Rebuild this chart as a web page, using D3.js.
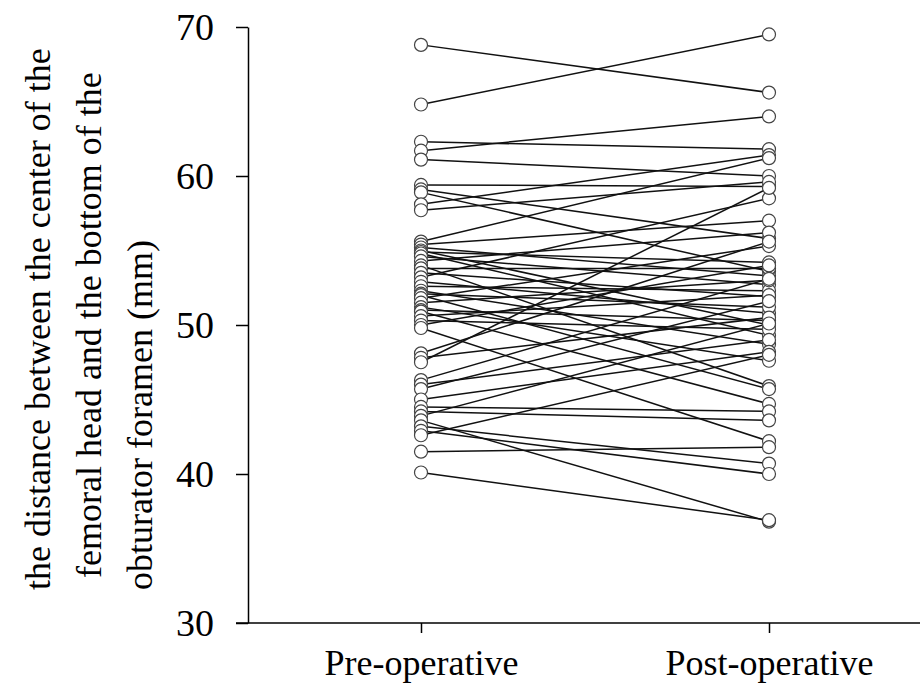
<!DOCTYPE html>
<html>
<head>
<meta charset="utf-8">
<script src="https://cdn.jsdelivr.net/npm/d3@7"></script>
<style>
  body { margin: 0; background: #fff; }
  svg text { font-family: "Liberation Serif", "DejaVu Serif", serif; }
</style>
</head>
<body>
<div id="chart"></div>
<script>
var width = 923;
var height = 693;
var serif = '"Liberation Serif", "DejaVu Serif", serif';

var groups = ['Pre-operative', 'Post-operative'];
var yTicks = [30, 40, 50, 60, 70];

// paired measurements, pre[i] -> post[i]
var pre = [68.8, 64.8, 62.3, 61.7, 61.1, 59.4, 59.1, 58.9, 58.1, 57.7,
  55.6, 55.4, 55.2, 55.0, 54.9, 54.8, 54.6, 54.3, 54.0, 53.8,
  53.5, 53.2, 52.9, 52.6, 52.3, 52.1, 52.0, 51.8, 51.5, 51.2,
  51.0, 50.9, 50.6, 50.3, 50.0, 49.8, 48.1, 47.8, 47.5, 46.3,
  46.0, 45.7, 45.0, 44.5, 44.2, 43.9, 43.6, 43.2, 42.9, 42.6,
  41.5, 40.1];
var post = [65.6, 69.5, 61.8, 64.0, 60.0, 59.3, 55.8, 53.6, 61.4, 59.6,
  61.2, 57.0, 53.3, 50.0, 54.2, 49.3, 52.7, 56.2, 45.9, 53.8,
  51.9, 58.5, 50.8, 52.3, 48.7, 51.2, 45.7, 55.3, 53.0, 47.6,
  50.3, 44.7, 52.0, 49.7, 54.0, 42.2, 55.6, 50.5, 59.2, 53.1,
  49.0, 51.6, 48.2, 44.2, 43.6, 50.1, 36.8, 40.7, 40.0, 48.0,
  41.8, 36.9];

var svg = d3.select('#chart')
  .append('svg')
  .attr('width', width)
  .attr('height', height);

var x = d3.scalePoint()
  .domain(groups)
  .range([421, 769]);

var y = d3.scaleLinear()
  .domain([30, 70])
  .range([623, 27]);

// y axis
var yAxis = svg.append('g')
  .attr('transform', 'translate(248,0)')
  .attr('font-family', serif)
  .call(d3.axisLeft(y).tickValues(yTicks).tickSize(12).tickPadding(22).tickSizeOuter(0));
yAxis.select('.domain').attr('stroke-width', 1.5);
yAxis.selectAll('.tick line').attr('stroke-width', 1.5);
yAxis.selectAll('.tick text')
  .attr('font-size', 38)
  .attr('fill', '#000');

// x axis
var xAxis = svg.append('g')
  .attr('transform', 'translate(0,623)')
  .attr('font-family', serif)
  .call(d3.axisBottom(x).tickSize(10).tickPadding(16).tickSizeOuter(0));
xAxis.select('.domain').attr('d', 'M236,0H920').attr('stroke-width', 1.5);
xAxis.selectAll('.tick line').attr('stroke-width', 1.5);
xAxis.selectAll('.tick text')
  .attr('font-size', 36)
  .attr('fill', '#000');

// y axis title, three lines
var title = svg.append('text')
  .attr('transform', 'translate(0,590) rotate(-90)')
  .attr('font-family', serif)
  .attr('font-size', 36)
  .attr('fill', '#000');
title.append('tspan').attr('x', 0).attr('y', 50).text('the distance between the center of the');
title.append('tspan').attr('x', 12).attr('y', 101).text('femoral head and the bottom of the');
title.append('tspan').attr('x', 0).attr('y', 152).text('obturator foramen  (mm)');

// paired lines
var pairs = pre.map(function(d, i) { return { pre: d, post: post[i] }; });

svg.selectAll('.pair')
  .data(pairs)
  .enter().append('line')
  .attr('class', 'pair')
  .attr('x1', x(groups[0]))
  .attr('x2', x(groups[1]))
  .attr('y1', function(d) { return y(d.pre); })
  .attr('y2', function(d) { return y(d.post); })
  .attr('stroke', '#111')
  .attr('stroke-width', 1.5);

// circles
var pts = [];
pairs.forEach(function(d) {
  pts.push({ g: groups[0], v: d.pre });
  pts.push({ g: groups[1], v: d.post });
});

svg.selectAll('.pt')
  .data(pts)
  .enter().append('circle')
  .attr('class', 'pt')
  .attr('cx', function(d) { return x(d.g); })
  .attr('cy', function(d) { return y(d.v); })
  .attr('r', 6.5)
  .attr('fill', '#fff')
  .attr('stroke', '#444')
  .attr('stroke-width', 1.2);
</script>
</body>
</html>
